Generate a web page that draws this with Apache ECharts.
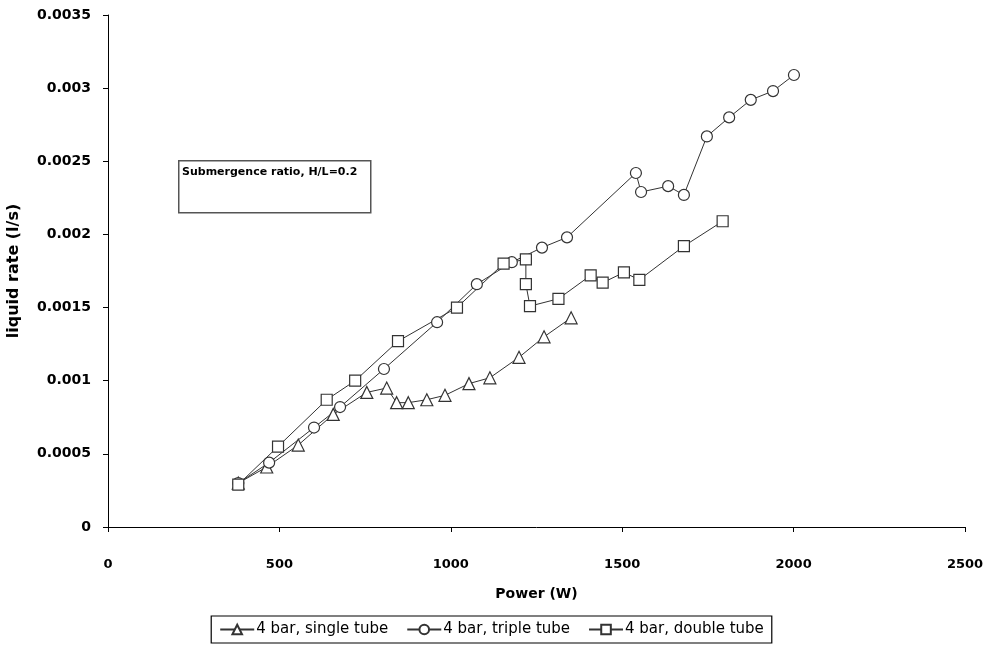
<!DOCTYPE html>
<html><head><meta charset="utf-8">
<script src="https://cdn.jsdelivr.net/npm/echarts@6/dist/echarts.min.js"></script>
<style>html,body{margin:0;padding:0;background:#fff}#c{width:983px;height:648px}</style>
</head><body><div id="c"></div>
<script>
const singleTube = [[380,0.0003],[463,0.00041],[555,0.00056],[657,0.00077],[755,0.00092],[813,0.00095],[842,0.00085],[876,0.00085],[930,0.00087],[983,0.0009],[1053,0.00098],[1114,0.00102],[1199,0.00116],[1272,0.0013],[1351,0.00143]];
const tripleTube = [[380,0.0003],[470,0.00044],[601,0.00068],[677,0.00082],[805,0.00108],[960,0.0014],[1076,0.00166],[1178,0.00181],[1266,0.00191],[1339,0.00198],[1540,0.00242],[1555,0.00229],[1634,0.00233],[1680,0.00227],[1747,0.00267],[1812,0.0028],[1875,0.00292],[1940,0.00298],[2001,0.00309]];
const doubleTube = [[380,0.00029],[496,0.00055],[638,0.00087],[721,0.001],[846,0.00127],[1018,0.0015],[1154,0.0018],[1219,0.00183],[1219,0.00166],[1231,0.00151],[1314,0.00156],[1408,0.00172],[1443,0.00167],[1505,0.00174],[1550,0.00169],[1680,0.00192],[1793,0.00209]];
const seriesNames = ['4 bar, single tube','4 bar, triple tube','4 bar, double tube'];
const annotationText = 'Submergence ratio, H/L=0.2';
const xAxisTitle = 'Power (W)';
const yAxisTitle = 'liquid rate (l/s)';

const font = 'DejaVu Sans, Arial, sans-serif';
function mk(name, data, symbol, size){
  return {name, type:'line', data, symbol, symbolSize:size, showSymbol:true,
    lineStyle:{color:'#333', width:1},
    itemStyle:{color:'#fff', borderColor:'#333', borderWidth:1.2},
    emphasis:{disabled:true}};
}
const chart = echarts.init(document.getElementById('c'), null, {renderer:'canvas'});
chart.setOption({
  animation:false,
  backgroundColor:'#fff',
  grid:{left:108, right:18, top:15, bottom:121, outerBoundsMode:'none', containLabel:false},
  xAxis:{type:'value', min:0, max:2500, interval:500,
    name:xAxisTitle, nameLocation:'middle', nameGap:60,
    nameTextStyle:{fontFamily:font, fontWeight:'bold', fontSize:14, color:'#000'},
    axisLine:{lineStyle:{color:'#000', width:1}},
    axisTick:{show:true, length:5, lineStyle:{color:'#000'}},
    axisLabel:{fontFamily:font, fontWeight:'bold', fontSize:13, color:'#000', margin:31,
      formatter:v=>String(v)},
    splitLine:{show:false}},
  yAxis:{type:'value', min:0, max:0.0035, interval:0.0005,
    axisLine:{show:true, lineStyle:{color:'#000', width:1}},
    axisTick:{show:true, length:5, lineStyle:{color:'#000'}},
    axisLabel:{fontFamily:font, fontWeight:'bold', fontSize:14, color:'#000', margin:17,
      formatter:v=>String(+v.toFixed(5))},
    splitLine:{show:false}},
  legend:{bottom:5, left:'center', itemWidth:34, itemHeight:12, itemGap:18,
    data:seriesNames,
    padding:[6,8], borderColor:'#000', borderWidth:1.2,
    textStyle:{fontFamily:font, fontSize:15, color:'#000', padding:[0,0,0,-3]}},
  graphic:[
    {type:'rect', left:178, top:160, shape:{width:192, height:52}, style:{fill:'#fff', stroke:'#555', lineWidth:1.5}},
    {type:'text', left:182, top:167, style:{text:annotationText, fontFamily:font, fontWeight:'bold', fontSize:11, fill:'#000'}},
    {type:'text', x:14, y:271, rotation:Math.PI/2, style:{text:yAxisTitle, fontFamily:font, fontWeight:'bold', fontSize:16, fill:'#000', align:'center', verticalAlign:'middle'}}
  ],
  series:[
    mk(seriesNames[0], singleTube, 'triangle', 12),
    mk(seriesNames[1], tripleTube, 'circle', 11),
    mk(seriesNames[2], doubleTube, 'rect', 11)
  ]
});
</script></body></html>
